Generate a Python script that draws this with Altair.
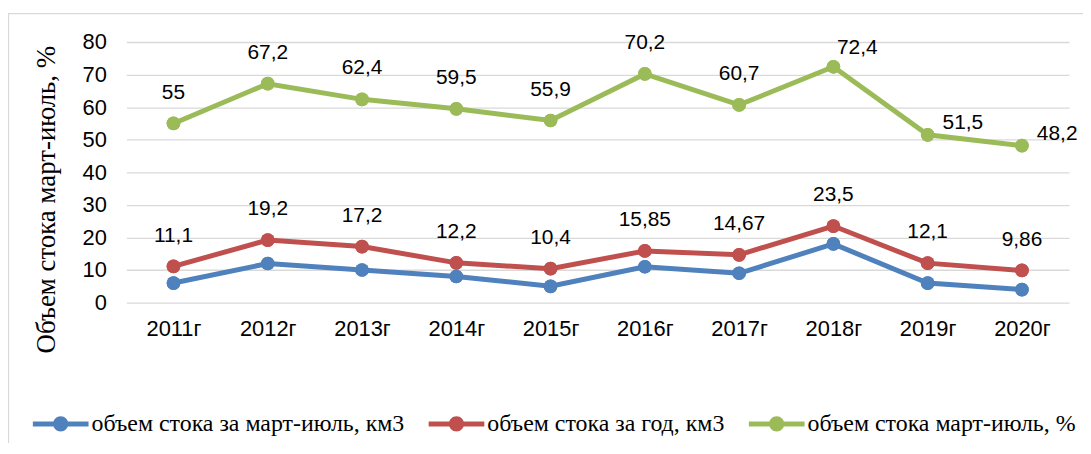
import altair as alt
import pandas as pd

years = ["2011г", "2012г", "2013г", "2014г", "2015г", "2016г", "2017г", "2018г", "2019г", "2020г"]
blue_vals = [6, 12, 10, 8, 5, 11, 9, 18, 6, 4]
red_vals = [11.1, 19.2, 17.2, 12.2, 10.4, 15.85, 14.67, 23.5, 12.1, 9.86]
green_vals = [55, 67.2, 62.4, 59.5, 55.9, 70.2, 60.7, 72.4, 51.5, 48.2]
red_labels = ["11,1", "19,2", "17,2", "12,2", "10,4", "15,85", "14,67", "23,5", "12,1", "9,86"]
green_labels = ["55", "67,2", "62,4", "59,5", "55,9", "70,2", "60,7", "72,4", "51,5", "48,2"]

s_blue = "объем стока за март-июль, км3"
s_red = "объем стока за год, км3"
s_green = "объем стока март-июль, %"
series_order = [s_blue, s_red, s_green]
colors = ["#4f81bd", "#c0504d", "#9bbb59"]

right_far = ["2019г", "2020г"]
right_near = ["2018г"]

rows = []
for i, y in enumerate(years):
    rows.append({"year": y, "series": s_blue, "value": blue_vals[i], "label": "", "idx": i, "pos": "none"})
    rows.append({"year": y, "series": s_red, "value": red_vals[i], "label": red_labels[i], "idx": i, "pos": "above"})
    gpos = "far" if y in right_far else ("near" if y in right_near else "above")
    rows.append({"year": y, "series": s_green, "value": green_vals[i], "label": green_labels[i], "idx": i, "pos": gpos})
df = pd.DataFrame(rows)

x_enc = alt.X("year:N", sort=years, scale=alt.Scale(type="point", padding=0.5),
              axis=alt.Axis(title=None, labelAngle=0, ticks=False, domain=False, grid=False,
                            labelPadding=16, labelFont="Liberation Sans", labelFontSize=22,
                            labelColor="#000000"))
y_enc = alt.Y("value:Q", scale=alt.Scale(domain=[0, 80], nice=False),
              axis=alt.Axis(values=list(range(0, 81, 10)), title="Объем стока март-июль, %",
                            ticks=False, domain=False, grid=True, gridColor="#d9d9d9",
                            gridWidth=1.3, labelPadding=20, labelFont="Liberation Sans",
                            labelFontSize=22, labelColor="#000000",
                            titleFont="Liberation Serif", titleFontSize=27,
                            titleFontWeight="normal", titleColor="#000000",
                            titleAngle=-90, titleX=-80, titleY=158,
                            titleAlign="center", titleBaseline="middle"))

legend_path = ("M-1,-0.09H1V0.09H-1Z "
               "M-0.27,0A0.27,0.27 0 1,1 0.27,0A0.27,0.27 0 1,1 -0.27,0Z")
legend = alt.Legend(title=None, orient="none", direction="horizontal",
                    columns=3, legendX=-94, legendY=356,
                    symbolType=legend_path, symbolSize=3136,
                    symbolStrokeWidth=0, symbolOpacity=1,
                    labelFont="Liberation Serif", labelFontSize=24,
                    labelColor="#000000", labelOffset=3,
                    columnPadding=24, padding=0, labelLimit=500)
color_enc = alt.Color("series:N", sort=series_order,
                      scale=alt.Scale(domain=series_order, range=colors),
                      legend=legend)

base = alt.Chart(df)

lines = base.mark_line(strokeWidth=5).encode(x=x_enc, y=y_enc, color=color_enc,
                                               detail="series:N", order="idx:Q")

points = base.mark_circle(size=190, opacity=1).encode(x=x_enc, y=y_enc, color=color_enc)

lab_default = base.transform_filter(alt.datum.pos == "above").mark_text(
    dy=-31, font="Liberation Sans", fontSize=21, color="#000000").encode(
    x=x_enc, y=y_enc, text="label:N")

lab_near = base.transform_filter(alt.datum.pos == "near").mark_text(
    dx=24, dy=-19, font="Liberation Sans", fontSize=21, color="#000000").encode(
    x=x_enc, y=y_enc, text="label:N")

lab_far = base.transform_filter(alt.datum.pos == "far").mark_text(
    dx=15, dy=-12, align="left", font="Liberation Sans", fontSize=21,
    color="#000000").encode(x=x_enc, y=y_enc, text="label:N")

frame = alt.Chart(pd.DataFrame({"a": [0]})).mark_rect(
    fill="transparent", stroke="#d9d9d9", strokeWidth=1.3).encode(
    x=alt.value(-118.5), x2=alt.value(1100), y=alt.value(-28.5), y2=alt.value(600))

chart = alt.layer(frame, points, lines, points, lab_default, lab_near, lab_far).properties(
    width=948, height=262,
    autosize=alt.AutoSizeParams(type="none"),
    padding={"left": 119, "top": 33, "right": 14, "bottom": 140},
    background="white",
).configure_view(stroke=None)

chart.save("out.html", embed_options={"renderer": "svg", "actions": False})
